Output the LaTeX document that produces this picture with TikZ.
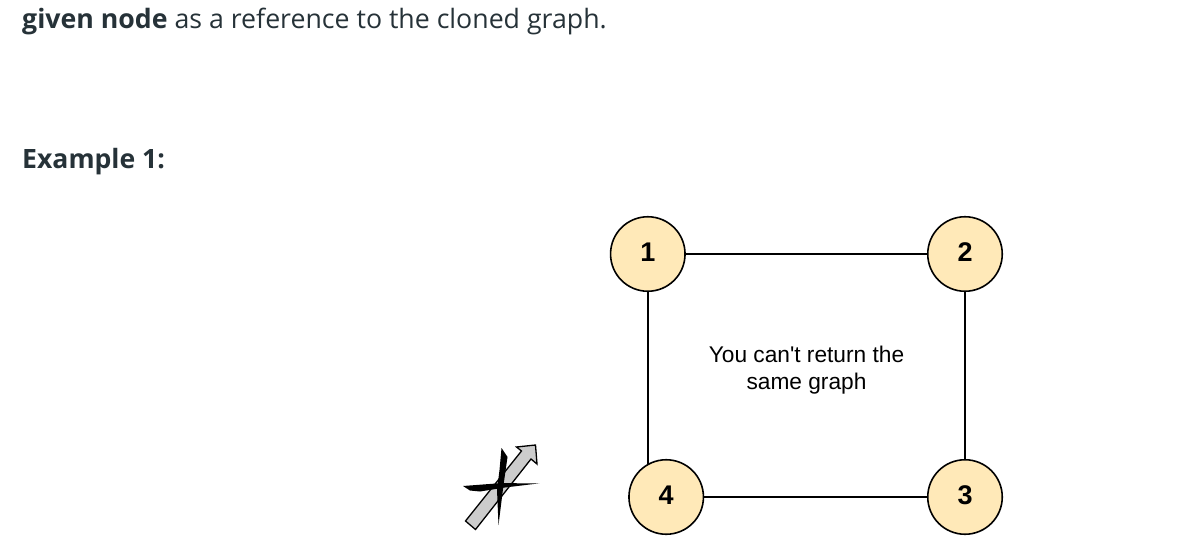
\documentclass[tikz,border=0pt]{standalone}
\usepackage{fontspec}
\setmainfont{Open Sans}
\newfontfamily\labelfont{Liberation Sans}
\usetikzlibrary{backgrounds}
\definecolor{pagetext}{HTML}{263238}
\definecolor{nodefill}{HTML}{FFE9B8}
\definecolor{arrowgray}{HTML}{CCCCCC}
\newcommand{\numlabel}[1]{\raisebox{4.5pt}{#1}}
\tikzset{
  gnode/.style={circle,draw=black,line width=1.6pt,fill=nodefill,minimum size=74.5pt,inner sep=0pt,
    text=black,font=\labelfont\fontsize{27}{30}\selectfont\bfseries},
  gedge/.style={draw=black,line width=1.4pt},
  pagetxt/.style={anchor=base west,inner sep=0pt,text=pagetext},
}
\begin{document}
\begin{tikzpicture}[x=1pt,y=-1pt]
\useasboundingbox (0,0) rectangle (1194,552);
\node[pagetxt,font=\fontsize{26.7}{32}\selectfont] (intro) at (22,28.3) {\textbf{given node} as a reference to the cloned graph.};
\node[pagetxt,font=\fontsize{26.6}{32}\selectfont\bfseries] (example) at (22,168.3) {Example 1:};
\node[gnode] (n1) at (647.8,254) {\numlabel{1}};
\node[gnode] (n2) at (965,254) {\numlabel{2}};
\node[gnode] (n3) at (965,497) {\numlabel{3}};
\node[gnode] (n4) at (666.2,497) {\numlabel{4}};
\begin{scope}[on background layer]
\draw[gedge] (n1) -- (n2);
\draw[gedge] (n2) -- (n3);
\draw[gedge] (n3) -- (n4);
\draw[gedge] (n1) -- (n1 |- n4);
\end{scope}
\node[align=center,inner sep=0pt,text=black,font=\labelfont\fontsize{22.7}{27.5}\selectfont] (note) at (806.5,370.2) {You can't return the\\same graph};
\draw[draw=black,fill=arrowgray,line width=1.3pt,line join=miter]
  (465.5,521) -- (521.5,451) -- (516.5,447) -- (535.5,445) -- (537,464) -- (531,459) -- (475.5,529.5) -- cycle;
\fill[black] (501.5,448) -- (507.5,457) -- (503.5,485) -- (498.5,525) -- (497,490) -- (499.5,470) -- cycle;
\fill[black] (463,486) -- (500,483.2) -- (539.5,483.3) -- (505,487.5) -- (480,491.5) -- (470,490.5) -- cycle;
\end{tikzpicture}
\end{document}
